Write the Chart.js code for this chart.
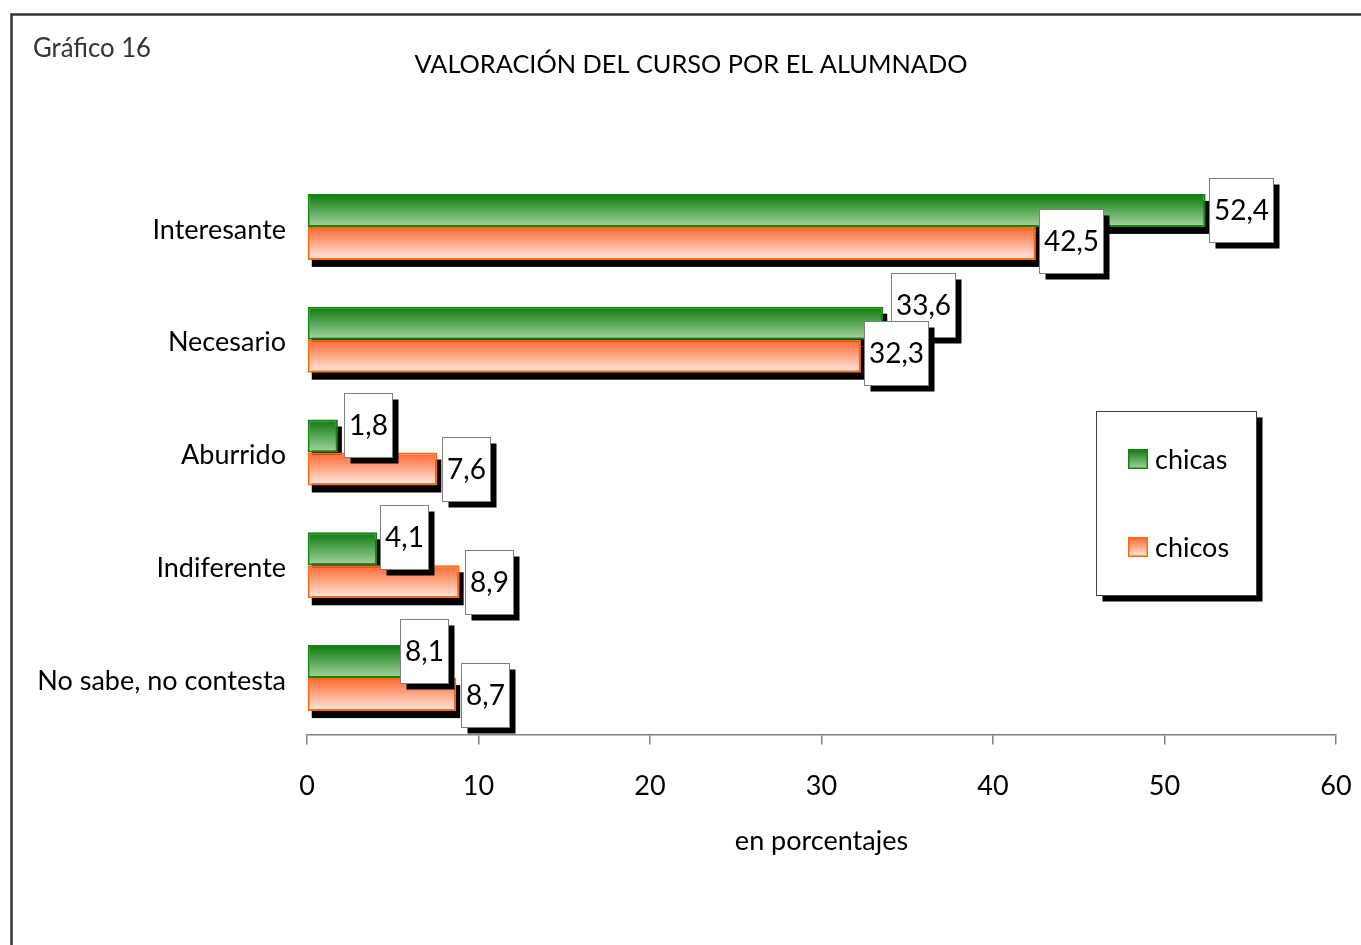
<!DOCTYPE html>
<html>
<head>
<meta charset="utf-8">
<title>Valoración del curso por el alumnado</title>
<script src="https://cdn.jsdelivr.net/npm/chart.js@4/dist/chart.umd.min.js"></script>
<style>
  html, body { margin: 0; padding: 0; background: #ffffff; }
  canvas { display: block; }
</style>
</head>
<body>
<canvas id="valoracionChart" width="1361" height="945"></canvas>
<script>
// Data
const categories = ["Interesante", "Necesario", "Aburrido", "Indiferente", "No sabe, no contesta"];
const chicas = [52.4, 33.6, 1.8, 4.1, 8.1];
const chicos = [42.5, 32.3, 7.6, 8.9, 8.7];
const seriesNames = ["chicas", "chicos"];
const xMin = 0;
const xMax = 60;
const xStep = 10;

const FONT = "Lato, 'Open Sans', sans-serif";
const CAT_PCT = 0.585;

// label box nudges [dx, dy] relative to the bar end (the original had them moved by hand)
const labelNudges = [
  [[0, 0], [5, -18], [3, -11], [0, -12], [-49, -11]],
  [[0, -2], [0, -3], [2, 0], [2, 0], [2, 0]],
];

// colours (top of gradient, bottom of gradient, border)
const greenTop = "#0b780b";
const greenBottom = "#a6d6a2";
const greenBorder = "#148514";
const orangeTop = "#ff6630";
const orangeBottom = "#ffece3";
const orangeBorder = "#ff6a0a";

// vertical gradient for each bar, using the category scale
function barGradient(context, top, bottom) {
  const chart = context.chart;
  const yScale = chart.scales.y;
  if (!chart.chartArea || !yScale || context.dataIndex === undefined) return bottom;
  const center = yScale.getPixelForValue(context.dataIndex);
  const band = yScale.height / categories.length;
  const thick = (band * CAT_PCT) / 2;
  const y0 = context.datasetIndex === 0 ? center - thick : center;
  const g = chart.ctx.createLinearGradient(0, y0, 0, y0 + thick);
  g.addColorStop(0, top);
  g.addColorStop(1, bottom);
  return g;
}

function fmt(v) {
  return v.toFixed(1).replace(".", ",");
}

// frame, headings, bar shadows, value boxes and legend
const decorPlugin = {
  id: "decor",
  beforeDraw(chart) {
    const ctx = chart.ctx;
    ctx.save();
    ctx.fillStyle = "#ffffff";
    ctx.fillRect(0, 0, chart.width, chart.height);
    ctx.strokeStyle = "#333333";
    ctx.lineWidth = 2.5;
    ctx.strokeRect(11.5, 14.5, chart.width + 20, chart.height + 20);

    ctx.fillStyle = "#333333";
    ctx.font = "26px " + FONT;
    ctx.textAlign = "left";
    ctx.textBaseline = "middle";
    ctx.fillText("Gráfico 16", 33, 49, 118);

    ctx.fillStyle = "#000000";
    ctx.font = "25.5px " + FONT;
    ctx.textAlign = "center";
    ctx.fillText("VALORACIÓN DEL CURSO POR EL ALUMNADO", 691, 65, 553);
    ctx.restore();
  },
  beforeDatasetsDraw(chart) {
    const ctx = chart.ctx;
    ctx.save();
    ctx.fillStyle = "#000000";
    chart.data.datasets.forEach((ds, i) => {
      chart.getDatasetMeta(i).data.forEach((bar) => {
        const p = bar.getProps(["x", "y", "base", "height"], true);
        ctx.fillRect(p.base + 4, p.y - p.height / 2 + 7, p.x - p.base, p.height);
      });
    });
    ctx.restore();
  },
  afterDatasetsDraw(chart) {
    const ctx = chart.ctx;
    ctx.save();
    ctx.font = "28px " + FONT;
    ctx.textAlign = "center";
    ctx.textBaseline = "middle";
    chart.data.datasets.forEach((ds, i) => {
      chart.getDatasetMeta(i).data.forEach((bar, j) => {
        const p = bar.getProps(["x", "y"], true);
        const nudge = labelNudges[i][j];
        const text = fmt(ds.data[j]);
        const w = Math.round(ctx.measureText(text).width + 9);
        const h = 64;
        const cy = p.y + nudge[1];
        const left = Math.round(p.x + 3 + nudge[0]) + 0.5;
        const top = Math.round(cy - h / 2) + 0.5;
        ctx.fillStyle = "#000000";
        ctx.fillRect(left + 6, top + 6, w, h);
        ctx.fillStyle = "#ffffff";
        ctx.fillRect(left, top, w, h);
        ctx.strokeStyle = "#7f7f7f";
        ctx.lineWidth = 1;
        ctx.strokeRect(left, top, w, h);
        ctx.fillStyle = "#000000";
        ctx.fillText(text, left + w / 2, cy + 1);
      });
    });
    ctx.restore();
  },
  afterDraw(chart) {
    // legend box
    const ctx = chart.ctx;
    ctx.save();
    const lx = 1096.5, ly = 411.5, lw = 160, lh = 184;
    ctx.fillStyle = "#000000";
    ctx.fillRect(lx + 6, ly + 6, lw, lh);
    ctx.fillStyle = "#ffffff";
    ctx.fillRect(lx, ly, lw, lh);
    ctx.strokeStyle = "#404040";
    ctx.lineWidth = 1;
    ctx.strokeRect(lx, ly, lw, lh);

    const items = [
      { name: seriesNames[0], y: 459, top: greenTop, bottom: greenBottom, border: greenBorder },
      { name: seriesNames[1], y: 547, top: orangeTop, bottom: orangeBottom, border: orangeBorder },
    ];
    ctx.font = "27px " + FONT;
    ctx.textAlign = "left";
    ctx.textBaseline = "middle";
    items.forEach((it) => {
      const sx = 1128, sy = it.y - 10, s = 20;
      const g = ctx.createLinearGradient(0, sy, 0, sy + s);
      g.addColorStop(0, it.top);
      g.addColorStop(1, it.bottom);
      ctx.fillStyle = g;
      ctx.fillRect(sx, sy, s, s);
      ctx.strokeStyle = it.border;
      ctx.lineWidth = 1.5;
      ctx.strokeRect(sx + 0.75, sy + 0.75, s - 1.5, s - 1.5);
      ctx.fillStyle = "#000000";
      ctx.fillText(it.name, 1155, it.y + 1);
    });
    ctx.restore();
  },
};

const ctx = document.getElementById("valoracionChart").getContext("2d");
const chart = new Chart(ctx, {
  type: "bar",
  data: {
    labels: categories,
    datasets: [
      {
        label: seriesNames[0],
        data: chicas,
        backgroundColor: (c) => barGradient(c, greenTop, greenBottom),
        borderColor: greenBorder,
        borderWidth: 2,
        borderSkipped: false,
      },
      {
        label: seriesNames[1],
        data: chicos,
        backgroundColor: (c) => barGradient(c, orangeTop, orangeBottom),
        borderColor: orangeBorder,
        borderWidth: 2,
        borderSkipped: false,
      },
    ],
  },
  options: {
    indexAxis: "y",
    responsive: false,
    animation: false,
    datasets: {
      bar: { categoryPercentage: CAT_PCT, barPercentage: 1 },
    },
    layout: { padding: { top: 170.5, right: 25, left: 0, bottom: 0 } },
    plugins: {
      legend: { display: false },
      title: { display: false },
      tooltip: { enabled: false },
    },
    scales: {
      x: {
        min: xMin,
        max: xMax,
        ticks: {
          stepSize: xStep,
          color: "#000000",
          padding: 26,
          font: { family: FONT, size: 27 },
        },
        grid: {
          display: true,
          drawOnChartArea: false,
          drawTicks: true,
          tickLength: 10,
          color: "#808080",
          lineWidth: 1.5,
        },
        border: { display: true, color: "#808080", width: 1.5 },
        title: {
          display: true,
          text: "en porcentajes",
          color: "#000000",
          font: { family: FONT, size: 27 },
          padding: { top: 0, bottom: 88 },
        },
        afterFit(scale) {
          scale.height = 210.5;
          // keep the plot edges fixed, the end labels may overhang
          scale.paddingLeft = 0;
          scale.paddingRight = 0;
        },
      },
      y: {
        ticks: {
          color: "#000000",
          padding: 21,
          labelOffset: 3,
          font: { family: FONT, size: 27 },
        },
        grid: { display: false, drawTicks: false },
        border: { display: false },
        afterFit(scale) {
          scale.width = 307;
        },
      },
    },
  },
  plugins: [decorPlugin],
});
</script>
</body>
</html>
